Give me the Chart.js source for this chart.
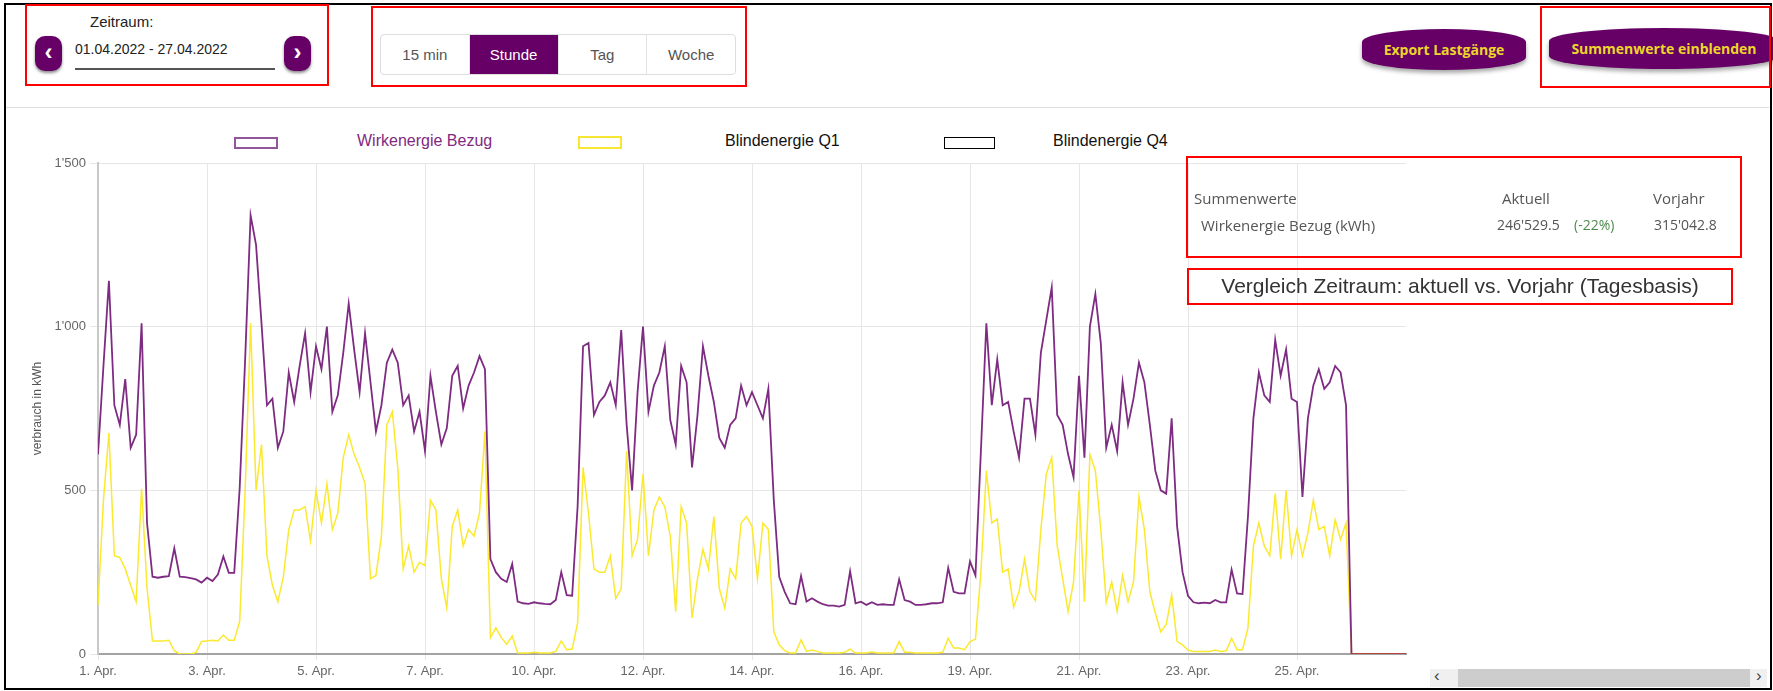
<!DOCTYPE html>
<html lang="de">
<head>
<meta charset="utf-8">
<title>Lastgang</title>
<script src="https://cdn.jsdelivr.net/npm/chart.js@4.4.1/dist/chart.umd.min.js"></script>
<style>
    html, body { margin: 0; padding: 0; background: #fff; }
    body { width: 1773px; height: 691px; position: relative; overflow: hidden; font-family: 'Liberation Sans', Arial, sans-serif; }
    .abs { position: absolute; white-space: nowrap; }
    .frame { left: 4px; top: 3px; width: 1764px; height: 683px; border: 2px solid #000; z-index: 5; pointer-events: none; }
    .redbox { border: 2px solid #ff0000; box-sizing: border-box; z-index: 6; }
    .narrow { font-family: 'Liberation Sans Narrow', 'Liberation Sans', Arial, sans-serif; }
    .navbtn { width: 27px; height: 35px; background: #660066; border-radius: 10px; color: #fff; font-weight: bold; font-size: 24px; line-height: 31px; text-align: center; box-shadow: 0 2px 3px rgba(0,0,0,0.45); }
    .seg { left: 380px; top: 34px; width: 356px; height: 41px; border: 1px solid #ddd; border-radius: 4px; box-sizing: border-box; display: flex; overflow: hidden; }
    .seg div { flex: 1; text-align: center; line-height: 39px; font-size: 15px; color: #555; border-left: 1px solid #e4e4e4; }
    .seg div:first-child { border-left: none; }
    .seg div.active { background: #660066; color: #fff; }
    .pill { height: 41px; background: #660066; border-radius: 50% / 32%; color: #ecd62c; font-family: 'Open Sans', sans-serif; font-weight: bold; font-size: 14px; line-height: 41px; text-align: center; box-shadow: 0 3px 4px rgba(0,0,0,0.35); }
    .legbox { box-sizing: border-box; }
    .legtext { font-size: 16px; line-height: 20px; }
    .sum { font-family: 'Open Sans', sans-serif; font-size: 15px; color: #555; line-height: 20px; z-index: 4; }
    #chartWrap { position: absolute; left: 0; top: 120px; width: 1420px; height: 571px; }
</style>
</head>
<body>
<div class="abs frame"></div>
<div class="abs" style="left:6px; top:107px; width:1763px; height:1px; background:#ddd;"></div>

<!-- Zeitraum -->
<div class="abs" style="left:90px; top:13px; font-size:15px; color:#222;">Zeitraum:</div>
<div class="abs navbtn" style="left:35px; top:36px;">&lsaquo;</div>
<div class="abs narrow" style="left:75px; top:41px; font-size:14px; color:#222;">01.04.2022 - 27.04.2022</div>
<div class="abs" style="left:75px; top:68px; width:200px; height:2px; background:#555;"></div>
<div class="abs navbtn" style="left:284px; top:36px;">&rsaquo;</div>
<div class="abs redbox" style="left:25px; top:4px; width:304px; height:82px;"></div>

<!-- Aufloesung -->
<div class="abs seg narrow">
    <div>15 min</div>
    <div class="active">Stunde</div>
    <div>Tag</div>
    <div>Woche</div>
</div>
<div class="abs redbox" style="left:371px; top:6px; width:376px; height:81px;"></div>

<!-- Buttons -->
<div class="abs pill" style="left:1362px; top:29px; width:164px;">Export Lastgänge</div>
<div class="abs pill" style="left:1549px; top:28px; width:230px;">Summenwerte einblenden</div>
<div class="abs redbox" style="left:1540px; top:6px; width:231px; height:82px;"></div>

<!-- Legende -->
<div class="abs legbox" style="left:234px; top:137px; width:44px; height:12px; border:2px solid #94569a;"></div>
<div class="abs legtext" style="left:357px; top:131px; color:#7f2a80;">Wirkenergie Bezug</div>
<div class="abs legbox" style="left:578px; top:136px; width:44px; height:13px; border:2px solid #f7e733;"></div>
<div class="abs legtext" style="left:725px; top:131px; color:#111;">Blindenergie Q1</div>
<div class="abs legbox" style="left:944px; top:137px; width:51px; height:12px; border:1px solid #000;"></div>
<div class="abs legtext" style="left:1053px; top:131px; color:#111;">Blindenergie Q4</div>

<div id="chartWrap"><canvas id="lastgangChart" width="1420" height="571"></canvas></div>

<!-- Summenwerte -->
<div class="abs sum" style="left:1194px; top:188px;">Summenwerte</div>
<div class="abs sum" style="left:1502px; top:188px;">Aktuell</div>
<div class="abs sum" style="left:1653px; top:188px;">Vorjahr</div>
<div class="abs sum" style="left:1201px; top:215px;">Wirkenergie Bezug (kWh)</div>
<div class="abs sum" style="left:1497px; top:215px; font-size:14px;">246'529.5</div>
<div class="abs sum" style="left:1574px; top:215px; font-size:14px; color:#4d8a4d;">(-22%)</div>
<div class="abs sum" style="left:1654px; top:215px; font-size:14px;">315'042.8</div>
<div class="abs redbox" style="left:1186px; top:156px; width:556px; height:102px;"></div>

<div class="abs" style="left:1187px; top:274px; width:546px; text-align:center; font-size:21px; color:#333; z-index:4;">Vergleich Zeitraum: aktuell vs. Vorjahr (Tagesbasis)</div>
<div class="abs redbox" style="left:1187px; top:268px; width:546px; height:37px;"></div>

<!-- Scrollbar -->
<div class="abs" style="left:1430px; top:669px; width:337px; height:18px; background:#f0f0f0;"></div>
<div class="abs" style="left:1458px; top:669px; width:292px; height:18px; background:#cdcdcd;"></div>
<div class="abs" style="left:1434px; top:666px; font-size:17px; color:#444;">&lsaquo;</div>
<div class="abs" style="left:1756px; top:666px; font-size:17px; color:#444;">&rsaquo;</div>

<script>
// Wirkenergie Bezug (kWh), ca. alle 2.4 h, 20 Punkte pro Beschriftungsabstand
const wirkenergie = [
    610, 880, 1140, 760, 700, 840, 630, 670, 1010, 400, 236,
    233, 236, 238, 323, 236, 235, 232, 228, 218, 233,
    223, 243, 298, 248, 248, 508, 900, 1340, 1250, 1010,
    760, 780, 630, 680, 860, 770, 880, 980, 800, 940,
    870, 1000, 740, 790, 920, 1070, 930, 800, 980, 830,
    680, 760, 890, 930, 890, 760, 790, 680, 740, 620,
    850, 740, 640, 690, 850, 880, 750, 820, 860, 910,
    870, 290, 250, 230, 220, 275, 160, 155, 153, 158,
    155, 153, 152, 165, 250, 180, 178, 450, 940, 950,
    730, 770, 790, 830, 760, 990, 700, 500, 800, 1000,
    740, 820, 860, 940, 715, 640, 880, 830, 570, 730,
    940, 850, 770, 660, 630, 700, 720, 820, 760, 800,
    760, 720, 810, 470, 235, 190, 155, 152, 238, 160,
    170, 160, 152, 148, 148, 145, 150, 253, 155, 160,
    150, 158, 150, 152, 150, 150, 228, 165, 160, 150,
    150, 152, 155, 155, 158, 263, 190, 185, 185, 283,
    240, 620, 1010, 760, 900, 760, 770, 680, 600, 780,
    780, 670, 920, 1020, 1120, 730, 700, 610, 540, 850,
    600, 1000, 1100, 950, 630, 700, 620, 830, 700, 780,
    890, 830, 700, 560, 500, 490, 720, 390, 250, 178,
    158, 155, 157, 155, 165, 158, 158, 258, 185, 183,
    420, 720, 860, 790, 770, 960, 850, 930, 780, 770,
    480, 720, 820, 870, 810, 830, 880, 860, 760, 0,
    0, 0, 0, 0, 0, 0, 0, 0, 0, 0
];

// Blindenergie Q1
const blindQ1 = [
    150, 470, 675, 300, 295, 260, 210, 160, 505, 200, 40,
    40, 40, 42, 10, 0, 0, 0, 5, 38, 40,
    42, 40, 58, 42, 42, 100, 500, 1010, 500, 640,
    300, 210, 160, 235, 380, 440, 440, 450, 345, 500,
    400, 520, 380, 430, 600, 670, 610, 570, 520, 230,
    240, 360, 700, 740, 570, 260, 330, 250, 280, 270,
    470, 440, 230, 140, 390, 440, 330, 380, 360, 430,
    680, 50, 80, 50, 30, 55, 3, 3, 3, 5,
    3, 3, 3, 8, 40, 13, 15, 95, 570, 430,
    260, 250, 250, 300, 170, 200, 620, 300, 350, 550,
    300, 440, 480, 450, 360, 130, 450, 400, 110, 230,
    320, 260, 420, 200, 140, 260, 230, 400, 420, 390,
    230, 400, 380, 68, 28, 10, 3, 3, 43, 8,
    12, 8, 3, 3, 3, 3, 5, 15, 3, 3,
    3, 6, 3, 3, 3, 3, 38, 5, 5, 3,
    3, 3, 3, 3, 5, 48, 18, 18, 13, 38,
    45, 250, 560, 400, 413, 250, 260, 143, 190, 290,
    190, 163, 380, 550, 600, 330, 230, 130, 220, 500,
    160, 610, 560, 380, 158, 220, 130, 240, 160, 220,
    480, 380, 190, 125, 68, 90, 180, 38, 28, 12,
    8, 8, 8, 8, 12, 8, 10, 48, 13, 13,
    80, 330, 400, 330, 300, 490, 290, 500, 300, 380,
    300, 370, 470, 380, 390, 300, 410, 350, 400, 0,
    0, 0, 0, 0, 0, 0, 0, 0, 0, 0
];

const xTickLabels = ['1. Apr.', '3. Apr.', '5. Apr.', '7. Apr.', '10. Apr.', '12. Apr.', '14. Apr.', '16. Apr.', '19. Apr.', '21. Apr.', '23. Apr.', '25. Apr.', ''];
const yTickLabels = ['0', '500', "1'000", "1'500"];
const pointsPerLabel = 20;
const dataEnd = 229;

const tickFont = { family: "'Liberation Sans Narrow', 'Liberation Sans', Arial, sans-serif", size: 13 };

const ctx = document.getElementById('lastgangChart').getContext('2d');
new Chart(ctx, {
    type: 'line',
    data: {
        datasets: [{
            label: 'Wirkenergie Bezug',
            data: wirkenergie.map((v, i) => ({ x: i, y: v })),
            borderColor: '#7e2b82',
            borderWidth: 1.8,
            pointRadius: 0,
            tension: 0,
            segment: {
                borderColor: c => c.p0DataIndex > dataEnd ? '#b3443f' : undefined
            }
        }, {
            label: 'Blindenergie Q1',
            data: blindQ1.map((v, i) => ({ x: i, y: v })),
            borderColor: '#fbe930',
            borderWidth: 1.5,
            pointRadius: 0,
            tension: 0
        }]
    },
    options: {
        responsive: false,
        animation: false,
        layout: { padding: { top: 43, right: 14, left: 0, bottom: 0 } },
        plugins: { legend: { display: false }, tooltip: { enabled: false } },
        scales: {
            x: {
                type: 'linear',
                min: 0,
                max: wirkenergie.length - 1,
                afterFit: s => { s.height = 37; },
                ticks: {
                    stepSize: pointsPerLabel,
                    autoSkip: false,
                    maxRotation: 0,
                    padding: 4,
                    color: '#666',
                    font: tickFont,
                    callback: v => xTickLabels[v / pointsPerLabel] || ''
                },
                grid: {
                    color: c => (c.tick && c.tick.value === wirkenergie.length - 1) ? 'rgba(0,0,0,0)' : '#e6e6e6',
                    tickLength: 6
                },
                border: { color: '#a3a3a3', width: 2 }
            },
            y: {
                min: 0,
                max: 1500,
                afterFit: s => { s.width = 98; },
                ticks: {
                    stepSize: 500,
                    padding: 4,
                    color: '#666',
                    font: tickFont,
                    callback: v => yTickLabels[v / 500]
                },
                grid: { color: '#e6e6e6', tickLength: 8 },
                border: { color: '#c8c8c8', width: 2 },
                title: {
                    display: true,
                    text: 'verbrauch in kWh',
                    color: '#555',
                    font: { family: "'Liberation Sans', Arial, sans-serif", size: 12 },
                    padding: { top: 30, bottom: 0 }
                }
            }
        }
    }
});
</script>
</body>
</html>
